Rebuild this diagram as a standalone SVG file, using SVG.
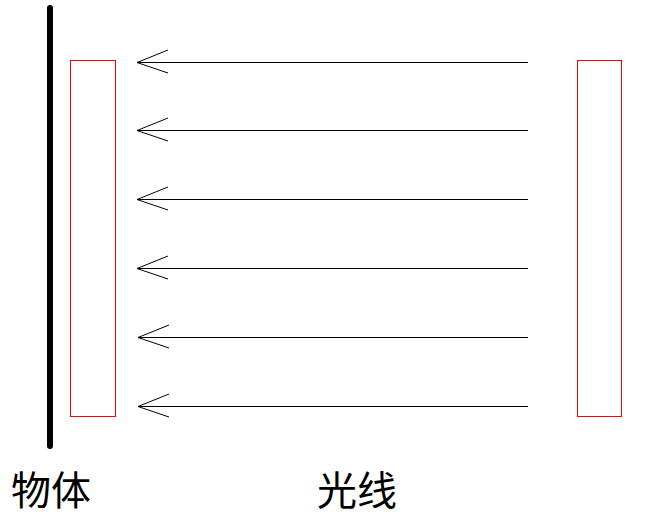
<svg xmlns="http://www.w3.org/2000/svg" width="650" height="523" viewBox="0 0 650 523">
<style>
.box{fill:none;stroke:#ff0000;stroke-width:1}
.ray{stroke:#000;stroke-width:1;fill:none}
.lbl{font-family:"Noto Sans CJK SC","Noto Sans CJK JP",sans-serif;font-size:40px;fill:#000}
</style>
<rect width="650" height="523" fill="#fff"/>
<g id="object">
<line x1="50" y1="8" x2="50" y2="446" stroke="#000" stroke-width="6" stroke-linecap="round"/>
<rect class="box" x="70.5" y="60.5" width="45" height="356"/>
</g>
<g id="source">
<rect class="box" x="577.5" y="60.5" width="44" height="356"/>
</g>
<g id="connectors">
<path class="ray" d="M528 62.5H137M168 50L137 62.5L168 73"/>
<path class="ray" d="M528 130.5H137M168 118L137 130.5L168 141"/>
<path class="ray" d="M528 199.5H137M168 187L137 199.5L168 210"/>
<path class="ray" d="M528 268.5H137M168 256L137 268.5L168 279"/>
<path class="ray" d="M528 337.5H138M169 325L138 337.5L169 348"/>
<path class="ray" d="M528 406.5H138M169 394L138 406.5L169 417"/>
</g>
<g id="labels">
<text class="lbl" x="11" y="505">物体</text>
<text class="lbl" x="317" y="505">光线</text>
</g>
</svg>
